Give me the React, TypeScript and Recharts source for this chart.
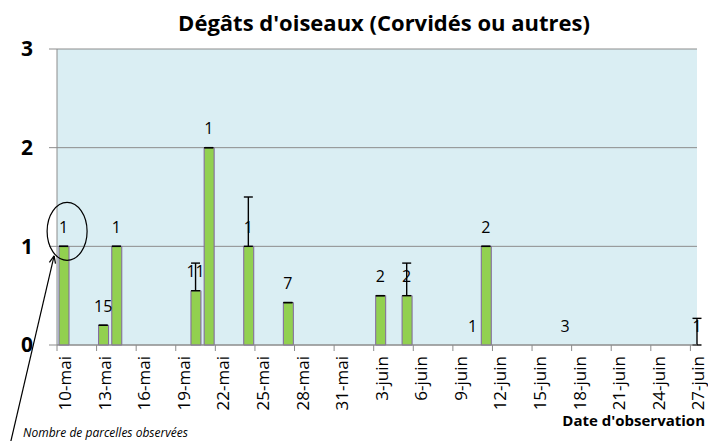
import React from 'react';
import { ComposedChart, Bar, Scatter, XAxis, YAxis, CartesianGrid, ErrorBar, ReferenceDot } from 'recharts';

// ---- data ----
const dateObservation = ['10-mai', '13-mai', '14-mai', '20-mai', '21-mai', '24-mai', '27-mai', '3-juin', '5-juin', '10-juin', '11-juin', '17-juin', '27-juin'];
const degats = [1, 0.2, 1, 0.55, 2, 1, 0.43, 0.5, 0.5, 0, 1, 0, 0];
const nbParcelles = [1, 15, 1, 11, 1, 1, 7, 2, 2, 1, 2, 3, 1];
const ecartPlus: (number | null)[] = [0, 0, 0, 0.28, 0, 0.5, 0, 0, 0.33, null, 0, null, 0.27];
const tickLabels = ['10-mai', '13-mai', '16-mai', '19-mai', '22-mai', '25-mai', '28-mai', '31-mai', '3-juin', '6-juin', '9-juin', '12-juin', '15-juin', '18-juin', '21-juin', '24-juin', '27-juin'];
const yTicks = [0, 1, 2, 3];

const dayIndex = (s: string) => {
  const [d, m] = s.split('-');
  return m === 'mai' ? Number(d) - 10 : 21 + Number(d);
};
const lastDay = dayIndex(tickLabels[tickLabels.length - 1]);

// one slot per calendar day (empty days have no bar)
const rows: any[] = [];
for (let i = 0; i <= lastDay; i++) rows.push({ day: i, value: null });
const obs = dateObservation.map((d, k) => ({
  day: dayIndex(d),
  value: degats[k],
  label: nbParcelles[k],
  err: ecartPlus[k] == null ? null : [0, ecartPlus[k]],
}));
obs.forEach((o) => {
  rows[o.day].value = o.value;
});
const xTicks = tickLabels.map((t) => dayIndex(t) - 0.5);
const labelOf = (v: number) => tickLabels[xTicks.indexOf(v)] ?? '';

const FONT = "'Open Sans', sans-serif";
const GRID = '#8c8c8c';

const XTick = (props: any) => {
  const { x, y, payload } = props;
  return (
    <text
      transform={`translate(${x + 14},${y + 3}) rotate(-90)`}
      textAnchor="end"
      fontSize={17}
      fill="#000"
      fontFamily={FONT}
    >
      {labelOf(payload.value)}
    </text>
  );
};

const LabelPoint = (props: any) => {
  const { cx, cy, payload } = props;
  if (cx == null || cy == null || !payload || payload.label == null) return null;
  return (
    <text x={cx} y={cy - 13.5} textAnchor="middle" fontSize={16} fill="#000" fontFamily={FONT}>
      {payload.label}
    </text>
  );
};

const Annotation = (props: any) => {
  const { cx, cy } = props;
  if (cx == null || cy == null) return null;
  const tipX = cx - 9.5;
  const tipY = cy + 9.5;
  const sx = cx - 53;
  const sy = cy + 196;
  const ang = Math.atan2(sy - tipY, sx - tipX);
  const L = 8;
  const a1 = ang + 0.4;
  const a2 = ang - 0.4;
  return (
    <g>
      <ellipse cx={cx + 3.5} cy={cy - 15} rx={20} ry={29} fill="none" stroke="#000" strokeWidth={1.2} />
      <line x1={sx} y1={sy} x2={tipX} y2={tipY} stroke="#000" strokeWidth={1.2} />
      <line x1={tipX} y1={tipY} x2={tipX + L * Math.cos(a1)} y2={tipY + L * Math.sin(a1)} stroke="#000" strokeWidth={1.2} />
      <line x1={tipX} y1={tipY} x2={tipX + L * Math.cos(a2)} y2={tipY + L * Math.sin(a2)} stroke="#000" strokeWidth={1.2} />
    </g>
  );
};

export default function App() {
  return (
    <div style={{ position: 'absolute', left: 0, top: 0, width: 708, height: 441, background: '#fff', fontFamily: FONT }}>
      <ComposedChart width={708} height={441} data={rows} margin={{ top: 49, right: 11, bottom: 0, left: 0 }}>
        <CartesianGrid vertical={false} fill="#DAEEF3" stroke={GRID} strokeOpacity={1} />
        <XAxis
          dataKey="day"
          type="number"
          domain={[-0.5, lastDay]}
          ticks={xTicks}
          interval={0}
          height={96}
          tick={<XTick />}
          tickSize={6}
          tickLine={{ stroke: GRID }}
          axisLine={{ stroke: GRID }}
        />
        <YAxis
          domain={[0, 3]}
          ticks={yTicks}
          width={57}
          tickSize={8}
          tickMargin={16}
          tick={{ fontSize: 21, fontWeight: 700, fill: '#000', fontFamily: FONT }}
          tickLine={{ stroke: GRID }}
          axisLine={{ stroke: GRID }}
        />
        <Bar dataKey="value" barSize={10} fill="#92D050" stroke="#7F649E" strokeWidth={1} isAnimationActive={false} />
        <Scatter data={obs} dataKey="value" shape={(p: any) => <LabelPoint {...p} />} isAnimationActive={false}>
          <ErrorBar dataKey="err" direction="y" width={4.5} stroke="#000" strokeWidth={1.4} />
        </Scatter>
        <ReferenceDot x={0} y={1} ifOverflow="visible" shape={(p: any) => <Annotation {...p} />} />
      </ComposedChart>
      <svg width={708} height={441} style={{ position: 'absolute', left: 0, top: 0, pointerEvents: 'none' }}>
        <text x={384} y={31} textAnchor="middle" fontSize={22} fontWeight={700} fill="#000" fontFamily={FONT}>
          Dégâts d'oiseaux (Corvidés ou autres)
        </text>
        <text x={705} y={426} textAnchor="end" fontSize={15} fontWeight={700} fill="#000" fontFamily={FONT}>
          Date d'observation
        </text>
        <text x={23} y={437} fontSize={12} fontStyle="italic" fill="#000" fontFamily={FONT}>
          Nombre de parcelles observées
        </text>
      </svg>
    </div>
  );
}
